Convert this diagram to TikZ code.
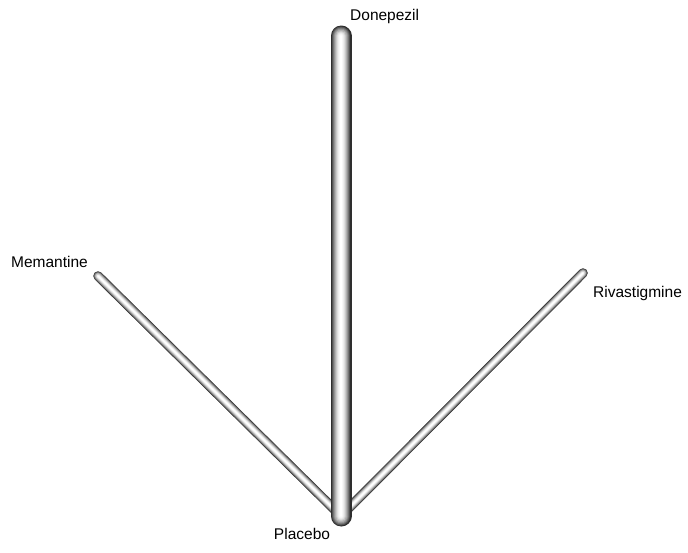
\documentclass[tikz,border=0pt]{standalone}
\usepackage{fontspec}
\setmainfont{Liberation Sans}
\usepackage{tikz}
\usetikzlibrary{positioning}
\tikzset{
  drug/.style ={font=\fontsize{15.5}{18}\selectfont, inner sep=0pt},
  arm/.style  ={line cap=round},
}
% shaded tube between two named points, #3 = full width
\newcommand{\tube}[3]{%
  \foreach \f/\c in {1/18, 0.9/32, 0.8/46, 0.7/58, 0.6/69, 0.5/79, 0.4/87, 0.3/93, 0.2/97, 0.1/100}
    \draw[arm, line width=\f*#3, color=white!\c!black] (#1) -- (#2);
}

\begin{document}
\begin{tikzpicture}[x=1pt, y=-1pt]
  \useasboundingbox (0,0) rectangle (688,552);

  \coordinate (don)  at (341,36);
  \coordinate (mem)  at (98,276);
  \coordinate (riv)  at (583,273);
  \coordinate (plac) at (341,516);

  \node[drug, anchor=west] (donlbl)  at (350,16)  {Donepezil};
  \node[drug, anchor=east] (memlbl)  at (88,262)  {Memantine};
  \node[drug, anchor=west] (rivlbl)  at (593,293) {Rivastigmine};
  \node[drug]              (placlbl) at (302,534) {Placebo};

  \tube{mem}{plac}{9.5}
  \tube{riv}{plac}{9.5}
  \tube{don}{plac}{21}
\end{tikzpicture}
\end{document}
